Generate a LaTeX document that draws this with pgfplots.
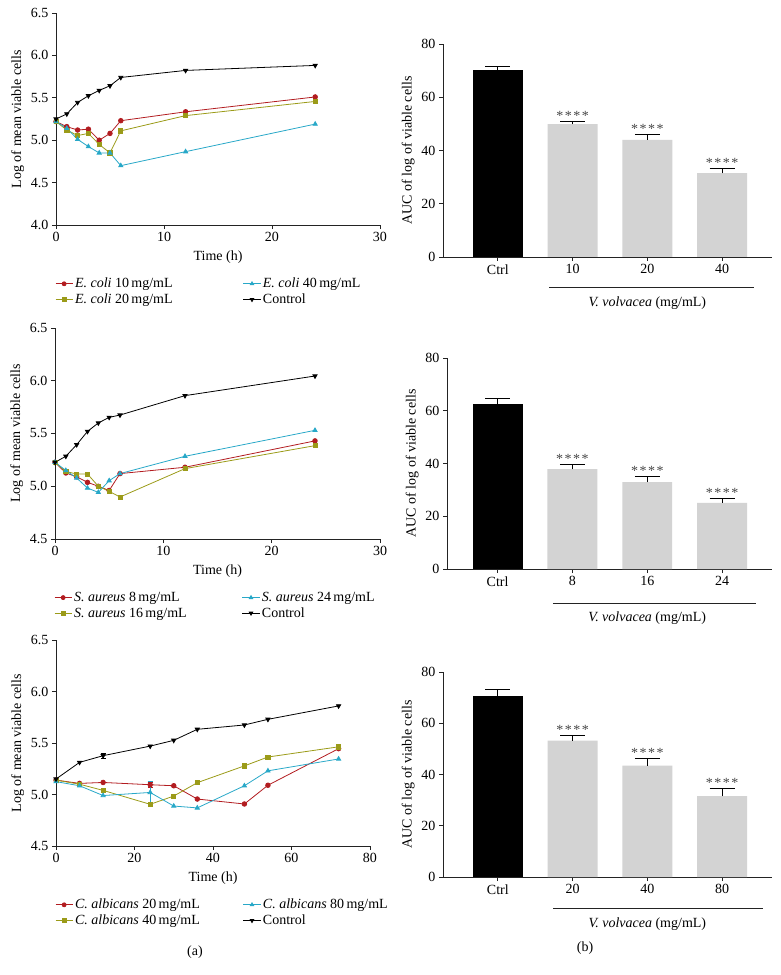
\documentclass[border=0pt]{standalone}
\usepackage{pgfplots}
\pgfplotsset{compat=1.18}
\usepackage{fontspec}
\setmainfont{Liberation Serif}

\definecolor{cred}{RGB}{178,28,32}
\definecolor{colive}{RGB}{155,155,25}
\definecolor{ccyan}{RGB}{40,168,200}
\definecolor{cbar}{RGB}{211,211,211}
\definecolor{caxis}{RGB}{35,35,35}
\definecolor{cstar}{RGB}{70,70,70}

\newcommand{\fs}{\fontsize{14}{16}\selectfont}

\tikzset{starnode/.style={anchor=base, font=\fontsize{14}{16}\selectfont, text=cstar, inner sep=0pt, yshift=1pt}}
\newcommand{\stars}{*\kern1.5pt*\kern1.5pt*\kern1.5pt*}
% first legend column gets a fixed width so the second column lines up
\newcommand{\lcol}[1]{\makebox[166pt][l]{#1}}

\pgfplotsset{
  base/.style={
    scale only axis,
    axis lines=left,
    axis line style={-, line width=0.8pt, caxis},
    tick align=outside,
    tick pos=left,
    major tick length=4pt,
    every tick/.style={caxis, line width=0.8pt},
    /pgf/number format/assume math mode=true,
    tick label style={font=\fs},
    label style={font=\fs},
    clip=false,
  },
  timeax/.style={base,
    yticklabel style={/pgf/number format/.cd, fixed, fixed zerofill, precision=1},
    ylabel={Log of mean viable cells},
    xlabel={Time (h)},
    xlabel style={yshift=-2pt},
    legend columns=2, transpose legend,
    legend cell align=left,
    legend style={draw=none, fill=none, font=\fs,
      at={(axis description cs:0,0)}, anchor=north west,
      yshift=-49pt, xshift=-4pt, column sep=0pt, row sep=0.5pt},
    legend image post style={mark size=2pt},
  },
  ln/.style={line width=0.8pt, color=#1, mark options={solid, fill=#1}},
  barax/.style={base, ymin=0, ymax=80, ytick={0,20,40,60,80},
    xtick={0,1,2,3}, ylabel={AUC of log of viable cells}},
  vbar/.style={ybar, bar shift=0pt, bar width=0.667, fill=#1, draw=none,
    error bars/.cd, y dir=plus, y explicit,
    error bar style={line width=0.8pt, black},
    error mark options={rotate=90, mark size=12.5pt, line width=0.8pt, black}},
}

\begin{document}
\begin{tikzpicture}
\path[use as bounding box] (0,0) rectangle (781pt,-975pt);

% ---------- E. coli time course ----------
\begin{axis}[timeax, at={(56pt,-13pt)}, anchor=north west, width=324pt, height=212pt,
  xmin=0, xmax=30, ymin=4, ymax=6.5, xtick={0,10,20,30}, ytick={4,4.5,5,5.5,6,6.5}]
\addplot[ln=cred, mark=*, mark size=2.3pt] coordinates {
  (0,5.22) (1,5.16) (2,5.12) (3,5.13) (4,5.00) (5,5.08) (6,5.23) (12,5.335) (24,5.51)};
\addlegendentry{\lcol{{\itshape E. coli} 10\,mg/mL}}
\addplot[ln=colive, mark=square*, mark size=2.1pt] coordinates {
  (0,5.22) (1,5.12) (2,5.055) (3,5.08) (4,4.95) (5,4.85) (6,5.11) (12,5.29) (24,5.457)};
\addlegendentry{\lcol{{\itshape E. coli} 20\,mg/mL}}
\addplot[ln=ccyan, mark=triangle*, mark size=2.4pt] coordinates {
  (0,5.22) (1,5.14) (2,5.01) (3,4.925) (4,4.85) (5,4.85) (6,4.70) (12,4.865) (24,5.19)};
\addlegendentry{{\itshape E. coli} 40\,mg/mL}
\addplot[ln=black, mark=triangle*, mark size=2.4pt, mark options={rotate=180}] coordinates {
  (0,5.25) (1,5.31) (2,5.445) (3,5.524) (4,5.587) (5,5.642) (6,5.74) (12,5.823) (24,5.882)};
\addlegendentry{Control}
\end{axis}

% ---------- E. coli AUC ----------
\begin{axis}[barax, at={(443pt,-44pt)}, anchor=north west, width=329pt, height=213pt,
  xmin=-0.733, xmax=3.667, xticklabels={Ctrl,10,20,40}]
\addplot[vbar=black] coordinates {(0,70.4) +- (0,1.1)};
\addplot[vbar=cbar] coordinates {(1,49.9) +- (0,1.1) (2,44.0) +- (0,2.1) (3,31.5) +- (0,1.6)};
\node[starnode] at (axis cs:1,51.0) {\stars};
\node[starnode] at (axis cs:2,46.1) {\stars};
\node[starnode] at (axis cs:3,33.1) {\stars};
\draw[line width=0.8pt, caxis] ([yshift=-30pt]axis cs:0.69,0) -- ([yshift=-30pt]axis cs:3.43,0);
\node[font=\fs] at ([yshift=-46pt]axis cs:2,0) {{\itshape V. volvacea} (mg/mL)};
\end{axis}

% ---------- S. aureus time course ----------
\begin{axis}[timeax, at={(55pt,-328pt)}, anchor=north west, width=325pt, height=211pt,
  xmin=0, xmax=30, ymin=4.5, ymax=6.5, xtick={0,10,20,30}, ytick={4.5,5,5.5,6,6.5}]
\addplot[ln=cred, mark=*, mark size=2.3pt] coordinates {
  (0,5.227) (1,5.126) (2,5.09) (3,5.037) (4,5.0) (5,4.96) (6,5.12) (12,5.18) (24,5.43)};
\addlegendentry{\lcol{{\itshape S. aureus} 8\,mg/mL}}
\addplot[ln=colive, mark=square*, mark size=2.1pt] coordinates {
  (0,5.227) (1,5.14) (2,5.116) (3,5.116) (4,5.0) (5,4.952) (6,4.898) (12,5.167) (24,5.385)};
\addlegendentry{\lcol{{\itshape S. aureus} 16\,mg/mL}}
\addplot[ln=ccyan, mark=triangle*, mark size=2.4pt] coordinates {
  (0,5.227) (1,5.15) (2,5.078) (3,4.983) (4,4.942) (5,5.053) (6,5.12) (12,5.284) (24,5.53)};
\addlegendentry{{\itshape S. aureus} 24\,mg/mL}
\addplot[ln=black, mark=triangle*, mark size=2.4pt, mark options={rotate=180}] coordinates {
  (0,5.227) (1,5.284) (2,5.394) (3,5.52) (4,5.60) (5,5.653) (6,5.675) (12,5.859) (24,6.045)};
\addlegendentry{Control}
\end{axis}

% ---------- S. aureus AUC ----------
\begin{axis}[barax, at={(447pt,-358pt)}, anchor=north west, width=325pt, height=211pt,
  xmin=-0.676, xmax=3.667, xticklabels={Ctrl,8,16,24}]
\addplot[vbar=black] coordinates {(0,62.6) +- (0,1.9)};
\addplot[vbar=cbar] coordinates {(1,37.9) +- (0,1.7) (2,32.9) +- (0,2.2) (3,25.1) +- (0,1.6)};
\node[starnode] at (axis cs:1,39.6) {\stars};
\node[starnode] at (axis cs:2,35.1) {\stars};
\node[starnode] at (axis cs:3,26.7) {\stars};
\draw[line width=0.8pt, caxis] ([yshift=-34pt]axis cs:0.74,0) -- ([yshift=-34pt]axis cs:3.45,0);
\node[font=\fs] at ([yshift=-49pt]axis cs:2,0) {{\itshape V. volvacea} (mg/mL)};
\end{axis}

% ---------- C. albicans time course ----------
\begin{axis}[timeax, at={(56pt,-640pt)}, anchor=north west, width=314pt, height=206pt,
  xmin=0, xmax=80, ymin=4.5, ymax=6.5, xtick={0,20,40,60,80}, ytick={4.5,5,5.5,6,6.5}]
\addplot[ln=cred, mark=*, mark size=2.3pt, error bars/.cd, y dir=both, y explicit,
  error bar style={line width=0.6pt}, error mark options={rotate=90, mark size=2.5pt}] coordinates {
  (0,5.14) (6,5.108) (12,5.117) (24,5.095) +- (0,0.02) (30,5.085) (36,4.956) (48,4.908) (54,5.09) (72,5.445)};
\addlegendentry{\lcol{{\itshape C. albicans} 20\,mg/mL}}
\addplot[ln=colive, mark=square*, mark size=2.1pt] coordinates {
  (0,5.14) (6,5.10) (12,5.04) (24,4.905) (30,4.985) (36,5.115) (48,5.278) (54,5.364) (72,5.463)};
\addlegendentry{\lcol{{\itshape C. albicans} 40\,mg/mL}}
\addplot[ln=ccyan, mark=triangle*, mark size=2.4pt, error bars/.cd, y dir=both, y explicit,
  error bar style={line width=0.6pt}, error mark options={rotate=90, mark size=2.5pt}] coordinates {
  (0,5.125) (6,5.085) (12,4.99) (24,5.02) +- (0,0.11) (30,4.888) (36,4.87) (48,5.085) (54,5.23) (72,5.345)};
\addlegendentry{{\itshape C. albicans} 80\,mg/mL}
\addplot[ln=black, mark=triangle*, mark size=2.4pt, mark options={rotate=180}, error bars/.cd, y dir=both, y explicit,
  error bar style={line width=0.6pt}, error mark options={rotate=90, mark size=2.5pt}] coordinates {
  (0,5.15) (6,5.312) (12,5.377) +- (0,0.025) (24,5.47) (30,5.526) (36,5.633) (48,5.675) (54,5.73) (72,5.86)};
\addlegendentry{Control}
\end{axis}

% ---------- C. albicans AUC ----------
\begin{axis}[barax, at={(443pt,-672pt)}, anchor=north west, width=329pt, height=205pt,
  xmin=-0.733, xmax=3.667, xticklabels={Ctrl,20,40,80}]
\addplot[vbar=black] coordinates {(0,70.5) +- (0,2.6)};
\addplot[vbar=cbar] coordinates {(1,53.2) +- (0,2.0) (2,43.5) +- (0,2.7) (3,31.6) +- (0,3.0)};
\node[starnode] at (axis cs:1,55.2) {\stars};
\node[starnode] at (axis cs:2,46.2) {\stars};
\node[starnode] at (axis cs:3,34.6) {\stars};
\draw[line width=0.8pt, caxis] ([yshift=-31pt]axis cs:0.74,0) -- ([yshift=-31pt]axis cs:3.54,0);
\node[font=\fs] at ([yshift=-47pt]axis cs:2,0) {{\itshape V. volvacea} (mg/mL)};
\end{axis}

\node[font=\fs] at (195pt,-952pt) {(a)};
\node[font=\fs] at (585pt,-948pt) {(b)};
\end{tikzpicture}
\end{document}
